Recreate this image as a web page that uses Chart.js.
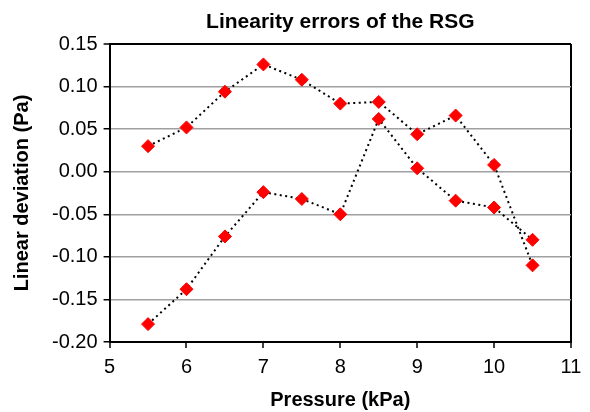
<!DOCTYPE html>
<html>
<head>
<meta charset="utf-8">
<script src="https://cdn.jsdelivr.net/npm/chart.js@4"></script>
<style>
  body { margin: 0; background: #fff; }
  #chart { display: block; }
</style>
</head>
<body>
<canvas id="chart" width="590" height="412"></canvas>
<script>
const chartTitle = "Linearity errors of the RSG";
const xTitle = "Pressure (kPa)";
const yTitle = "Linear deviation (Pa)";

// pressure steps (kPa)
const pressure = [5.5, 6, 6.5, 7, 7.5, 8, 8.5, 9, 9.5, 10, 10.5];
// the two runs (Pa)
const runA = [0.030, 0.052, 0.094, 0.126, 0.108, 0.080, 0.082, 0.044, 0.066, 0.008, -0.110];
const runB = [-0.179, -0.138, -0.076, -0.024, -0.032, -0.050, 0.062, 0.004, -0.034, -0.042, -0.080];

const xMin = 5, xMax = 11, xStep = 1;
const yMin = -0.2, yMax = 0.15, yStep = 0.05;

const fontFamily = '"Liberation Sans", Arial, sans-serif';

function toPoints(values) {
  return pressure.map((p, i) => ({ x: p, y: values[i] }));
}

function makeSeries(label, values) {
  return {
    label: label,
    data: toPoints(values),
    showLine: true,
    borderColor: "#000",
    borderWidth: 2,
    borderDash: [2, 3.5],
    pointStyle: "rectRot",
    pointRadius: 6.5,
    pointHoverRadius: 6.5,
    pointBackgroundColor: "#ff0000",
    pointBorderColor: "#ff0000",
    pointBorderWidth: 1,
    fill: false,
  };
}

// title centred over the plot area, like the original
const titlePlugin = {
  id: "plotTitle",
  afterDraw(chart) {
    const { ctx, chartArea } = chart;
    ctx.save();
    ctx.font = "bold 21px " + fontFamily;
    ctx.fillStyle = "#000";
    ctx.textAlign = "center";
    ctx.textBaseline = "alphabetic";
    ctx.fillText(chartTitle, (chartArea.left + chartArea.right) / 2, 28);
    ctx.restore();
  },
};

const ctx = document.getElementById("chart").getContext("2d");
new Chart(ctx, {
  type: "scatter",
  data: {
    datasets: [makeSeries("Run 1", runA), makeSeries("Run 2", runB)],
  },
  options: {
    responsive: false,
    animation: false,
    layout: { padding: { top: 44, right: 19, bottom: 0, left: 0 } },
    plugins: {
      legend: { display: false },
      title: { display: false },
      tooltip: { enabled: false },
    },
    scales: {
      x: {
        type: "linear",
        min: xMin,
        max: xMax,
        ticks: {
          stepSize: xStep,
          color: "#000",
          padding: 7,
          font: { family: fontFamily, size: 20 },
        },
        grid: {
          color: (c) => (c.index === c.scale.ticks.length - 1 ? "#000" : "rgba(0,0,0,0)"),
          lineWidth: 2,
          tickColor: "#000",
          tickLength: 6,
          tickWidth: 1.5,
        },
        border: { color: "#000", width: 2 },
        title: {
          display: true,
          text: xTitle,
          color: "#000",
          padding: { top: 2, bottom: 0 },
          font: { family: fontFamily, size: 20, weight: "bold" },
        },
      },
      y: {
        type: "linear",
        min: yMin,
        max: yMax,
        ticks: {
          stepSize: yStep,
          color: "#000",
          padding: 6,
          font: { family: fontFamily, size: 20 },
          callback: (v) => (Math.abs(v) < 1e-9 ? 0 : Number(v)).toFixed(2),
        },
        grid: {
          color: (c) => (c.index === c.scale.ticks.length - 1 ? "#000" : "#a0a0a0"),
          lineWidth: (c) => (c.index === c.scale.ticks.length - 1 ? 2 : 1.5),
          tickColor: "#000",
          tickLength: 6,
          tickWidth: 1.5,
        },
        border: { color: "#000", width: 2 },
        title: {
          display: true,
          text: yTitle,
          color: "#000",
          padding: { top: 10, bottom: 12 },
          font: { family: fontFamily, size: 20, weight: "bold" },
        },
      },
    },
  },
  plugins: [titlePlugin],
});
</script>
</body>
</html>
